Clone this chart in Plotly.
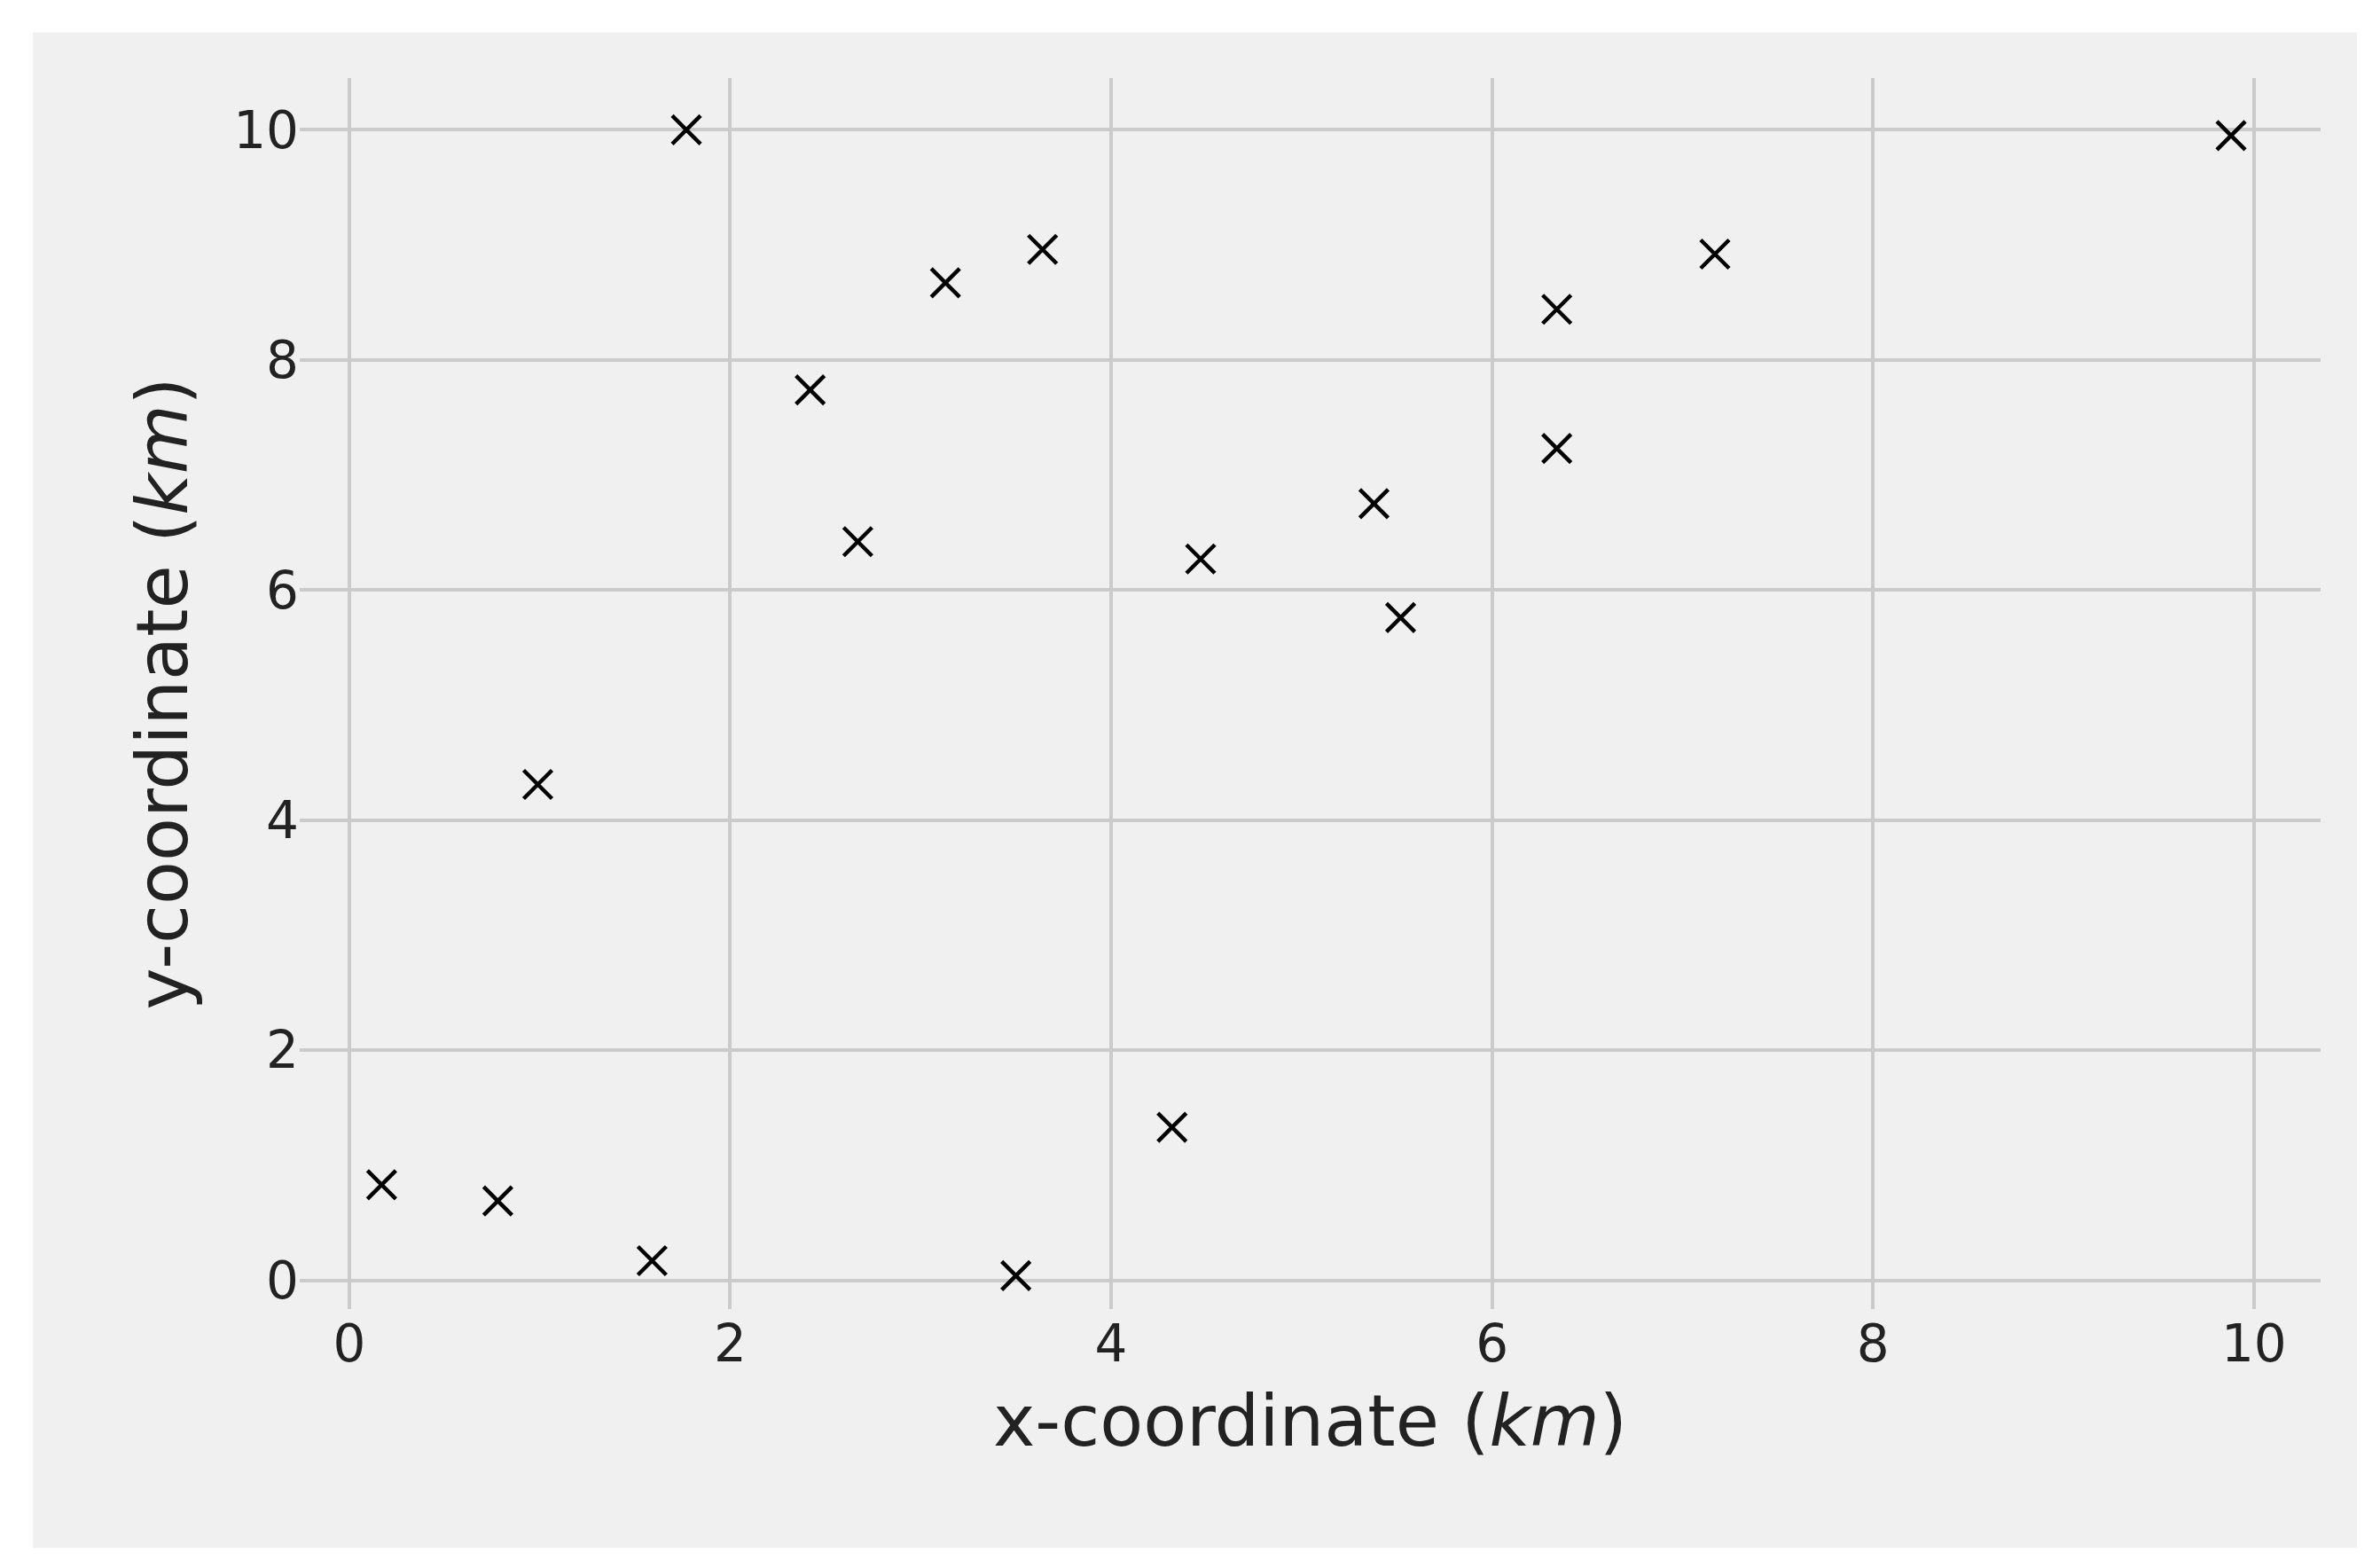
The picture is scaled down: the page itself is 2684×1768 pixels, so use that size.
import plotly.graph_objects as go

x_km = [0.17, 0.78, 0.99, 1.59, 1.77, 2.42, 2.67, 3.13, 3.64, 3.50, 4.32, 4.47, 5.38, 5.52, 6.34, 6.34, 7.17, 9.88]
y_km = [0.83, 0.69, 4.31, 0.17, 10.0, 7.74, 6.42, 8.67, 8.96, 0.04, 1.33, 6.27, 6.75, 5.76, 8.44, 7.23, 8.92, 9.95]
tick_vals = [0, 2, 4, 6, 8, 10]

fig = go.Figure()
fig.add_trace(go.Scatter(
    x=x_km, y=y_km, mode='markers',
    marker=dict(symbol='x-thin', size=32, line=dict(width=4.5, color='black'), color='black'),
))

# grey fivethirtyeight-style panel behind everything
fig.add_shape(type='rect', xref='paper', yref='paper', x0=-0.132, x1=1.018, y0=-0.194, y1=1.037,
              fillcolor='#f0f0f0', line=dict(width=0), layer='below')

axis_style = dict(showgrid=True, gridcolor='#cbcbcb', gridwidth=3.5, zeroline=False,
                  showline=False, ticks='', tickvals=tick_vals,
                  tickfont=dict(size=58, color='#222'), title_font=dict(size=80, color='#222'))

fig.update_layout(
    width=2684, height=1768,
    paper_bgcolor='white', plot_bgcolor='#f0f0f0',
    margin=dict(l=330, r=75, t=80, b=300),
    showlegend=False,
    font=dict(family='DejaVu Sans'),
    xaxis=dict(range=[-0.26, 10.35], title=dict(text='x-coordinate (<i>km</i>)', standoff=25), **axis_style),
    yaxis=dict(range=[-0.25, 10.45], title=dict(text='y-coordinate (<i>km</i>)', standoff=25), **axis_style),
)

fig.write_html("out.html")
